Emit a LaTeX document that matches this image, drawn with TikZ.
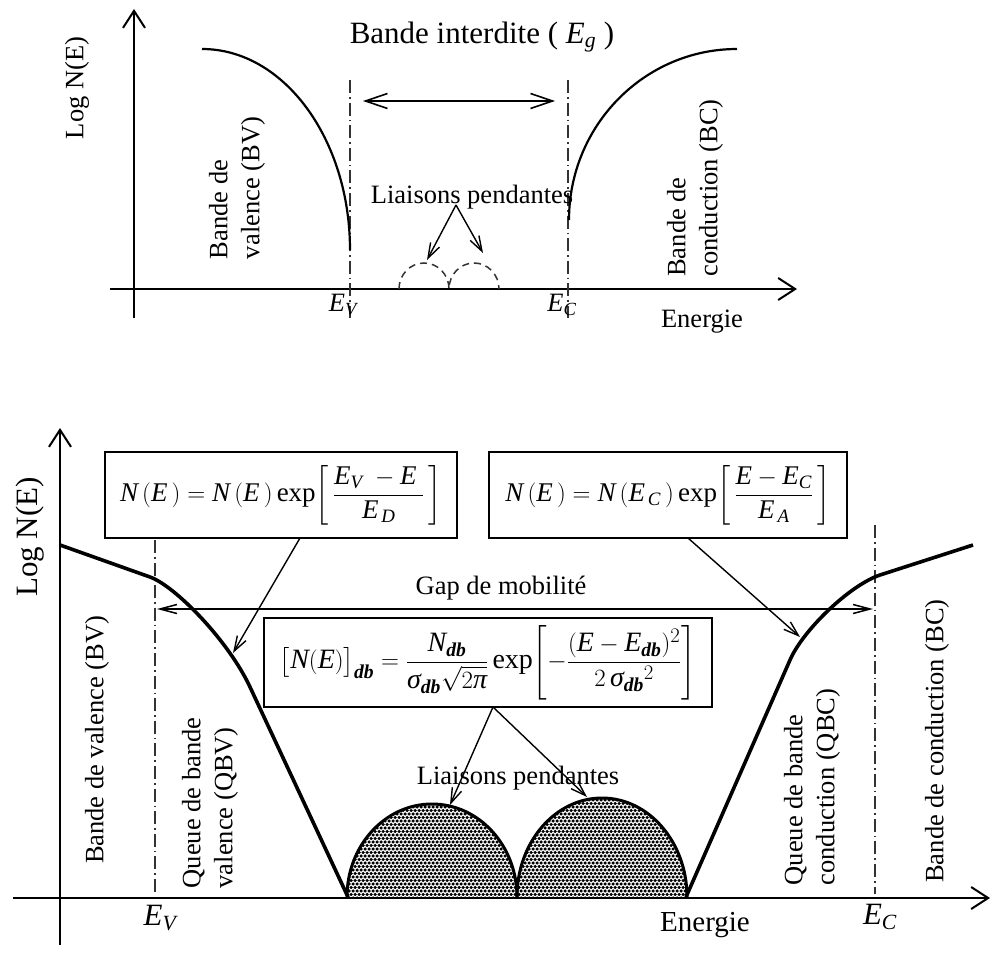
\documentclass[tikz,border=0pt]{standalone}
\usepackage{amsmath}
\usepackage{graphicx}
\usepackage{fontspec}
\setmainfont{Liberation Serif}
\usetikzlibrary{arrows.meta,patterns}
\newcommand{\mi}[1]{\textit{#1}}
\newcommand{\tbi}[1]{\textbf{\textit{#1}}}
\newcommand{\ftxt}{\fontsize{26.5}{32}\selectfont}
\newcommand{\fbig}{\fontsize{31}{36}\selectfont}
\pgfdeclarepatternformonly{speck}{\pgfqpoint{-1pt}{-1pt}}{\pgfqpoint{5pt}{8pt}}{\pgfqpoint{4pt}{7pt}}{%
  \pgfpathcircle{\pgfqpoint{1pt}{1pt}}{1.75pt}%
  \pgfpathcircle{\pgfqpoint{3pt}{4.5pt}}{1.75pt}%
  \pgfusepath{fill}}
\begin{document}
\begin{tikzpicture}[x=1pt,y=1pt,
  axis/.style={line width=2pt,-{Straight Barb[length=17pt,width=22pt,line width=2pt]}},
  bound/.style={line width=1.6pt,black!80,dash pattern=on 13pt off 4pt on 1.6pt off 4pt},
  tcurve/.style={line width=2.2pt},
  bcurve/.style={line width=3.6pt,line join=round},
  dblarrow/.style={line width=1.6pt,{Straight Barb[length=22pt,width=15pt,line width=1.6pt]}-{Straight Barb[length=22pt,width=15pt,line width=1.6pt]}},
  gaparrow/.style={line width=1.5pt,{Straight Barb[length=17pt,width=9pt,line width=1.5pt]}-{Straight Barb[length=17pt,width=9pt,line width=1.5pt]}},
  ann/.style={line width=1.4pt,-{Straight Barb[length=15pt,width=10pt,line width=1.4pt]}},
  hump/.style={line width=1.5pt,black!80,dash pattern=on 7pt off 5pt},
  dots/.style={pattern=speck,pattern color=black,preaction={fill=white}},
  lbl/.style={inner sep=0pt,font=\ftxt},
  lblbig/.style={inner sep=0pt,font=\fbig},
  fbox/.style={draw,line width=1.8pt,fill=white,inner sep=2pt},
]
\useasboundingbox (0,0) rectangle (993,-969);

% ================= TOP DIAGRAM =================
\coordinate (tyb) at (134,-318); \coordinate (tyt) at (134,-9);
\coordinate (txl) at (110,-289); \coordinate (txr) at (797,-289);
\draw[axis] (tyb) -- (tyt);
\draw[axis] (txl) -- (txr);

\coordinate (tev1) at (350,-80); \coordinate (tev2) at (350,-318);
\coordinate (tec1) at (568,-80); \coordinate (tec2) at (568,-318);
\draw[bound] (tev1) -- (tev2);
\draw[bound] (tec1) -- (tec2);

\draw[tcurve] (202,-49) .. controls (283.7,-49) and (350,-139) .. (350,-250);
\draw[tcurve] (569,-220) .. controls (569,-125.6) and (644.2,-49) .. (737,-49);

\coordinate (ga1) at (363,-101); \coordinate (ga2) at (555,-101);
\draw[dblarrow] (ga1) -- (ga2);

\draw[hump] (399,-289) arc[start angle=180,end angle=0,x radius=25pt,y radius=26pt]
            arc[start angle=180,end angle=0,x radius=25pt,y radius=26pt];

\node[lbl] (tlog) at (77,-88) [rotate=90] {Log N(E)};
\node[lblbig] (tbi) at (482,-37) {Bande interdite ( \mi{E}$_{\mi{g}}$ )};
\node[lbl] (tlp) at (472,-197) {Liaisons pendantes};
\coordinate (tlpa) at (456,-205);
\coordinate (th1) at (427,-260); \coordinate (th2) at (483,-253);
\draw[ann] (tlpa) -- (th1);
\draw[ann] (tlpa) -- (th2);

\node[lbl,rotate=90,align=left] (tbv) at (237,-188) {Bande de\\valence (BV)};
\node[lbl,rotate=90,align=left] (tbc) at (695,-188) {Bande de\\conduction (BC)};
\node[lbl] (tEv) at (343,-305) {\mi{E}$_{\mi{V}}$};
\node[lbl] (tEc) at (562,-305) {\mi{E}$_{\mi{C}}$};
\node[lbl] (ten) at (702,-322) {Energie};

% ================= BOTTOM DIAGRAM =================
\coordinate (byb) at (60,-945); \coordinate (byt) at (60,-428);
\coordinate (bxl) at (13,-898); \coordinate (bxr) at (990,-898);

\path[dots] (347,-897) arc[start angle=180,end angle=0,x radius=85pt,y radius=93pt] -- cycle;
\path[dots] (517,-897) arc[start angle=180,end angle=0,x radius=85pt,y radius=99pt] -- cycle;
\draw[line width=3pt] (347,-897) arc[start angle=180,end angle=0,x radius=85pt,y radius=93pt];
\draw[line width=3pt] (517,-897) arc[start angle=180,end angle=0,x radius=85pt,y radius=99pt];

\draw[axis] (byb) -- (byt);
\draw[axis] (bxl) -- (bxr);

\coordinate (bev1) at (155,-540); \coordinate (bev2) at (155,-894);
\coordinate (bec1) at (875,-525); \coordinate (bec2) at (875,-894);
\draw[bound] (bev1) -- (bev2);
\draw[bound] (bec1) -- (bec2);

\draw[bcurve] (60,-545) -- (150,-577) .. controls (175,-586) and (228,-640) .. (250,-687) -- (348,-897);
\draw[bcurve] (686,-897) -- (790,-660) .. controls (803,-630) and (850,-585) .. (880,-575) -- (973,-545);

\coordinate (gm1) at (157,-609); \coordinate (gm2) at (873,-609);
\draw[gaparrow] (gm1) -- (gm2);

\node[fbox,minimum width=352pt,minimum height=86pt] (box1) at (281,-495)
 {\fontsize{27}{32}\selectfont $\mi{N}\,(\mi{E}\,)=\mi{N}\,(\mi{E}\,)\,\textrm{exp}\!\left[\,\dfrac{\mi{E}_{\mi{V}}\;-\mi{E}\;}{\mi{E}_{\,\mi{D}}}\,\right]$};
\node[fbox,minimum width=358pt,minimum height=86pt] (box2) at (668,-495)
 {\fontsize{27}{32}\selectfont $\mi{N}\,(\mi{E}\,)=\mi{N}\,(\mi{E}_{\,\mi{C}}\,)\,\textrm{exp}\!\left[\,\dfrac{\mi{E}-\mi{E}_{\mi{C}}}{\mi{E}_{\,\mi{A}}}\,\right]$};
\node[fbox,line width=2.6pt,minimum width=448pt,minimum height=89pt,inner sep=1pt] (box3) at (488,-662.5)
 {\fontsize{28}{31}\selectfont $\big[\mi{N}(\mi{E})\big]_{\tbi{db}}=\dfrac{\mi{N}_{\tbi{db}}}{\mi{σ}_{\tbi{db}}\sqrt{2\mi{π}}}\,\textrm{exp}\!\left[-\dfrac{(\mi{E}-\mi{E}_{\tbi{db}})^{2}}{2\,\mi{σ}_{\tbi{db}}{}^{2}}\right]$};

\coordinate (b1a) at (300,-538); \coordinate (b1b) at (233,-653);
\coordinate (b2a) at (688,-538); \coordinate (b2b) at (800,-637);
\coordinate (b3a) at (493,-707); \coordinate (b3b) at (450,-805); \coordinate (b3c) at (587,-797);
\draw[ann] (b1a) -- (b1b);
\draw[ann] (b2a) -- (b2b);
\draw[ann] (b3a) -- (b3b);
\draw[ann] (b3a) -- (b3c);

\node[lblbig] (blog) at (30,-537) [rotate=90] {Log N(E)};
\node[lbl] (bgap) at (501,-588) {Gap de mobilité};
\node[lbl] (blp) at (518,-778) {Liaisons pendantes};
\node[lbl,rotate=90] (bbv) at (97,-740) {Bande de valence (BV)};
\node[lbl,rotate=90,align=left] (bqbv) at (210,-803) {Queue de bande\\valence (QBV)};
\node[lbl,rotate=90,align=left] (bqbc) at (812,-787) {Queue de bande\\conduction (QBC)};
\node[lbl,rotate=90] (bbc) at (937,-741) {Bande de conduction (BC)};
\node[lblbig] (bEv) at (160,-918) {\mi{E}$_{\mi{V}}$};
\node[lblbig] (bEc) at (880,-917) {\mi{E}$_{\mi{C}}$};
\node[lbl,font=\fontsize{29}{34}\selectfont] (ben) at (705,-925) {Energie};
\end{tikzpicture}
\end{document}
